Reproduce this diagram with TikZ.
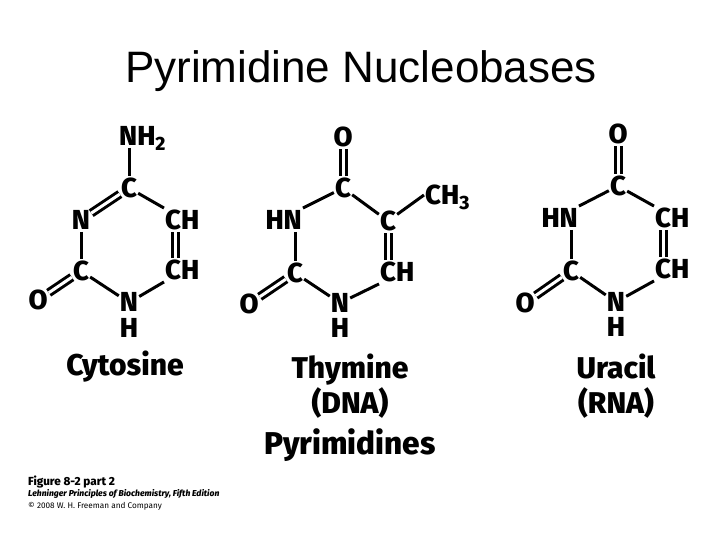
\documentclass[tikz,border=0pt]{standalone}
\usepackage{fontspec}
\setmainfont{Fira Sans}[BoldFont={Fira Sans ExtraBold}]
\newfontfamily\titlefont{Liberation Sans}

\tikzset{
  atom/.style={font=\fontsize{27.5}{27.5}\selectfont\bfseries,text height=18.5pt,text depth=0pt,inner xsep=1pt,inner ysep=2.5pt},
  bond/.style={line width=3pt},
  dbond/.style={line width=3pt,double,double distance=3pt},
  basename/.style={font=\fontsize{30}{35}\selectfont\bfseries,align=center},
}

\begin{document}
\begin{tikzpicture}[x=1pt,y=-1pt]

\useasboundingbox (0,0) rectangle (720,540);

\node[anchor=base,font=\titlefont\fontsize{44}{44}\selectfont] (title) at (361,83) {Pyrimidine Nucleobases};

\node[atom,anchor=west] (cnh) at (118,136) {NH\textsubscript{2}};
\node[atom] (cc1) at (129,188) {C};
\node[atom] (cn1) at (81,220) {N};
\node[atom] (cc2) at (81,271) {C};
\node[atom] (co) at (38,300) {O};
\node[atom] (cn2) at (129,302.5) {N};
\node[atom] (chh) at (129,328) {H};
\node[atom,anchor=west] (cch1) at (164,220) {CH};
\node[atom,anchor=west] (cch2) at (164,270) {CH};

\draw[bond] (cc1 |- cnh.south) -- (cc1.north);
\draw[dbond] (cc1) -- (cn1);
\draw[bond] (cn1) -- (cc2);
\draw[dbond] (cc2) -- (co);
\draw[bond] (cc2) -- (cn2);
\draw[bond] (cn2) -- (cch2.south west);
\draw[dbond] ([xshift=11pt]cch2.north west) -- ([xshift=11pt]cch1.south west);
\draw[bond] (cch1.north west) -- (cc1);

\node[atom] (to1) at (343,137) {O};
\node[atom] (tc1) at (343,188) {C};
\node[atom,anchor=east] (thn) at (303,220) {HN};
\node[atom] (tc2) at (295,273) {C};
\node[atom] (to2) at (249,304) {O};
\node[atom] (tn) at (340,303) {N};
\node[atom] (thh) at (340,328.5) {H};
\node[atom,anchor=west] (tch) at (379,272) {CH};
\node[atom] (tc3) at (388,221) {C};
\node[atom,anchor=west] (tme) at (424,195) {CH\textsubscript{3}};

\draw[dbond] (to1) -- (tc1);
\draw[bond] (tc1) -- (thn.north east);
\draw[bond] (thn.south -| tc2) -- (tc2.north);
\draw[dbond] (tc2) -- (to2);
\draw[bond] (tc2) -- (tn);
\draw[bond] (tn) -- (tch.south west);
\draw[dbond] (tch.north -| tc3) -- (tc3.south);
\draw[bond] (tc3) -- (tc1);
\draw[bond] (tc3) -- (tme.west);

\node[atom] (uo1) at (618,134) {O};
\node[atom] (uc1) at (618,186) {C};
\node[atom,anchor=east] (uhn) at (579,218) {HN};
\node[atom] (uc2) at (571,271) {C};
\node[atom] (uo2) at (525,303) {O};
\node[atom] (un) at (616,302) {N};
\node[atom] (uhh) at (616,327.5) {H};
\node[atom,anchor=west] (uch1) at (654,218) {CH};
\node[atom,anchor=west] (uch2) at (654,269) {CH};

\draw[dbond] (uo1) -- (uc1);
\draw[bond] (uc1) -- (uhn.north east);
\draw[bond] (uhn.south -| uc2) -- (uc2.north);
\draw[dbond] (uc2) -- (uo2);
\draw[bond] (uc2) -- (un);
\draw[bond] (un) -- (uch2.south west);
\draw[dbond] ([xshift=9pt]uch2.north west) -- ([xshift=9pt]uch1.south west);
\draw[bond] (uch1.north west) -- (uc1);

\node[basename] (cyt) at (125,367) {Cytosine};
\node[basename] (thy) at (350,386) {Thymine\\(DNA)};
\node[basename] (ura) at (616,386) {Uracil\\(RNA)};
\node[basename,font=\fontsize{31.5}{35}\selectfont\bfseries] (pyr) at (350,445) {Pyrimidines};

\node[anchor=base west,inner sep=0pt,font=\fontsize{11.7}{11.7}\selectfont\bfseries] (fig) at (28,485) {Figure 8-2 part 2};
\node[anchor=base west,inner sep=0pt,font=\fontsize{8.6}{8.6}\selectfont\bfseries\itshape] (book) at (28,496) {Lehninger Principles of Biochemistry, Fifth Edition};
\node[anchor=base west,inner sep=0pt,font=\fontsize{8.2}{8.2}\selectfont] (copy) at (28,508) {© 2008 W. H. Freeman and Company};

\end{tikzpicture}
\end{document}
